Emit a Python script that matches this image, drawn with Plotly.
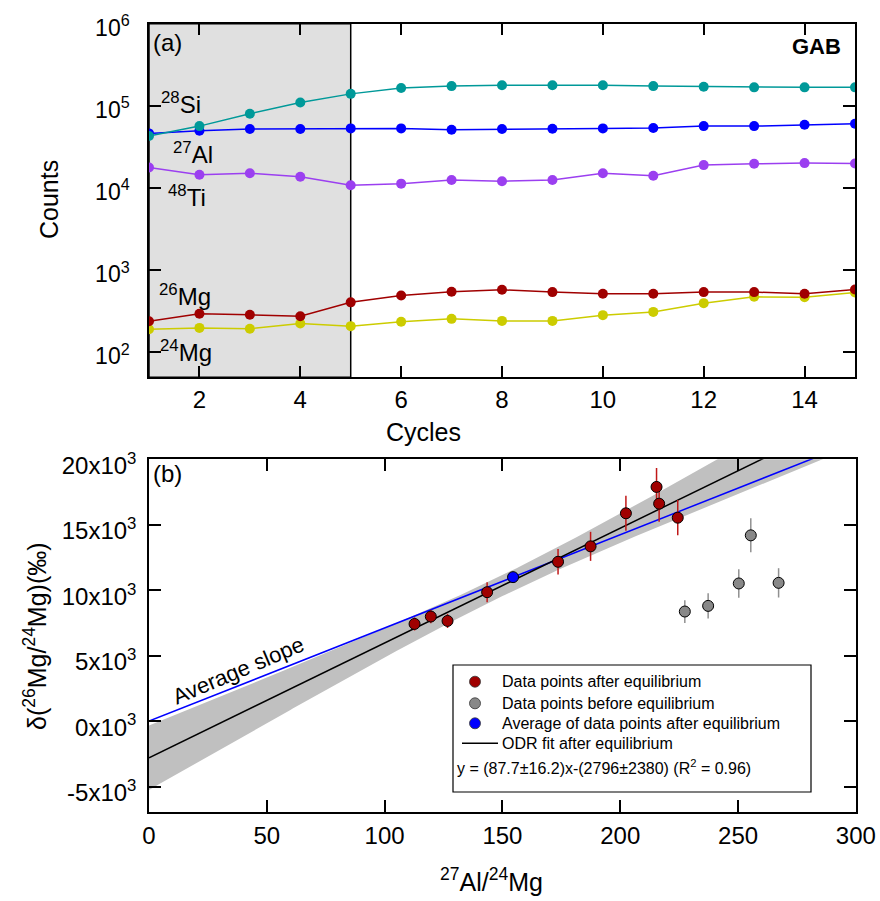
import numpy as np
import plotly.graph_objects as go

# figure laid out in reference-pixel coordinates (page body margin removed below)
OFF = 0
W, H = 880, 901
FONT = "Arial, Liberation Sans, Helvetica, sans-serif"

# ---------------- data: panel (a) ----------------
cycles = list(range(1, 16))
si28 = [42900, 56700, 80100, 110000, 140000, 165000, 174000, 178000, 178000,
        178000, 174000, 171000, 168000, 168000, 168000]
al27 = [46200, 49800, 52200, 52200, 53200, 53200, 51200, 52200, 52600, 53200,
        53700, 56700, 56700, 58900, 60500]
ti48 = [17800, 14500, 15100, 13700, 10800, 11300, 12500, 12100, 12500, 15100,
        14100, 19000, 19700, 20100, 19900]
mg26 = [239, 294, 286, 275, 405, 492, 545, 576, 540, 515, 515, 540, 540, 515, 582]
mg24 = [191, 198, 193, 224, 208, 235, 255, 241, 241, 283, 310, 396, 473, 469, 534]
equilibrium_cycle = 5

# ---------------- data: panel (b) ----------------
ratio_after = [112.7, 119.6, 126.7, 143.5, 173.6, 187.4, 202.4, 215.4, 216.5, 224.4]
delta_after = [7427, 7994, 7657, 9855, 12175, 13354, 15880, 17894, 16616, 15544]
err_after = [500, 510, 540, 765, 970, 1110, 1340, 1455, 1380, 1350]
ratio_before = [227.4, 237.3, 250.3, 255.4, 267.2]
delta_before = [8376, 8806, 10520, 14195, 10566]
err_before = [870, 960, 1085, 1300, 1120]
avg_ratio = [154.5]
avg_delta = [11003]
odr_slope, odr_slope_err = 87.7, 16.2
odr_intercept, odr_intercept_err = -2796, 2380
odr_r2 = 0.96
band_min_halfwidth, band_pivot, band_slope_err = 800, 150, 15.5

top_ticks = [1e2, 1e3, 1e4, 1e5, 1e6]
top_ticktext = ["10<sup>2</sup>", "10<sup>3</sup>", "10<sup>4</sup>",
                "10<sup>5</sup>", "10<sup>6</sup>"]
bot_yticks = [-5000, 0, 5000, 10000, 15000, 20000]
bot_yticktext = ["-5x10<sup>3</sup>", "0x10<sup>3</sup>", "5x10<sup>3</sup>",
                 "10x10<sup>3</sup>", "15x10<sup>3</sup>", "20x10<sup>3</sup>"]
bot_xticks = [0, 50, 100, 150, 200, 250, 300]

legend_labels = ["Data points after equilibrium", "Data points before equilibrium",
                 "Average of data points after equilibrium", "ODR fit after equilibrium"]
COL_AFTER, COL_BEFORE, COL_AVG = "#a00000", "#888888", "#0000ff"


def fx(p):
    return (p - OFF) / W


def fy(p):
    return 1 - (p - OFF) / H


fig = go.Figure()

# ---- panel (a) traces ----
series = [
    (mg24, "#cccc00", "24Mg"),
    (mg26, "#a00000", "26Mg"),
    (ti48, "#9b3ff0", "48Ti"),
    (al27, "#0000ff", "27Al"),
    (si28, "#009999", "28Si"),
]
for vals, col, name in series:
    fig.add_trace(go.Scatter(
        x=cycles, y=vals, mode="lines+markers", name=name,
        line=dict(color=col, width=1.5),
        marker=dict(color=col, size=10),
        xaxis="x", yaxis="y"))

# ---- panel (b) traces ----
xs = np.linspace(0, 300, 301)
center = odr_slope * xs + odr_intercept
hw = np.sqrt(band_min_halfwidth ** 2 + ((xs - band_pivot) * band_slope_err) ** 2)
fig.add_trace(go.Scatter(
    x=np.concatenate([xs, xs[::-1]]),
    y=np.concatenate([center + hw, (center - hw)[::-1]]),
    fill="toself", fillcolor="#c0c0c0", line=dict(width=0), mode="lines",
    hoverinfo="skip", xaxis="x2", yaxis="y2"))

avg_slope = avg_delta[0] / avg_ratio[0]
fig.add_trace(go.Scatter(
    x=[0, 300], y=[0, 300 * avg_slope], mode="lines",
    line=dict(color="#0000ff", width=1.5), name="Average slope",
    xaxis="x2", yaxis="y2"))
fig.add_trace(go.Scatter(
    x=[0, 300], y=[odr_intercept, odr_slope * 300 + odr_intercept], mode="lines",
    line=dict(color="black", width=1.5), name=legend_labels[3],
    xaxis="x2", yaxis="y2"))

# error bars
fig.add_trace(go.Scatter(
    x=ratio_after, y=delta_after, mode="markers",
    marker=dict(size=2, opacity=0),
    error_y=dict(type="data", array=err_after, color="#c01818", thickness=1.5, width=0),
    hoverinfo="skip", xaxis="x2", yaxis="y2"))
fig.add_trace(go.Scatter(
    x=ratio_before, y=delta_before, mode="markers",
    marker=dict(size=2, opacity=0),
    error_y=dict(type="data", array=err_before, color="#909090", thickness=1.5, width=0),
    hoverinfo="skip", xaxis="x2", yaxis="y2"))

for xv, yv, col, nm in [(ratio_after, delta_after, COL_AFTER, legend_labels[0]),
                        (ratio_before, delta_before, COL_BEFORE, legend_labels[1]),
                        (avg_ratio, avg_delta, COL_AVG, legend_labels[2])]:
    fig.add_trace(go.Scatter(
        x=xv, y=yv, mode="markers", name=nm,
        marker=dict(color=col, size=11, line=dict(color="black", width=1)),
        xaxis="x2", yaxis="y2"))

axis_common = dict(showline=True, linecolor="black", linewidth=1.5,
                   ticks="inside", ticklen=12, tickwidth=1.5, tickcolor="black",
                   mirror="ticks", showgrid=False, zeroline=False,
                   automargin=False, ticklabeloverflow="allow")
tf24 = dict(family=FONT, size=24, color="black")
tf23 = dict(family=FONT, size=23, color="black")

fig.update_layout(
    width=W, height=H,
    margin=dict(l=0, r=0, t=0, b=0),
    paper_bgcolor="white", plot_bgcolor="white",
    template="none", showlegend=False,
    font=dict(family=FONT, color="black"),
    xaxis=dict(domain=[fx(149), fx(855)], range=[1, 15], tickvals=list(range(2, 15, 2)),
               anchor="y", ticklabelstandoff=0, tickfont=tf24, **axis_common),
    yaxis=dict(domain=[fy(377.3), fy(23.7)], type="log", range=[1.695, 6.0005],
               tickvals=top_ticks, ticktext=top_ticktext, anchor="x",
               ticklabelstandoff=13, ticklabelshift=4, tickfont=tf23, **axis_common),
    xaxis2=dict(domain=[fx(149), fx(856)], range=[0, 300.05], tickvals=bot_xticks,
                anchor="y2", ticklabelstandoff=1, tickfont=tf24, **axis_common),
    yaxis2=dict(domain=[fy(812), fy(459.3)], range=[-6940, 20005],
                tickvals=bot_yticks, ticktext=bot_yticktext, anchor="x2",
                ticklabelstandoff=6, ticklabelshift=6, tickfont=tf24, **axis_common),
)

fig.add_shape(type="rect", xref="x", yref="y domain", x0=1, x1=equilibrium_cycle,
              y0=0, y1=1, fillcolor="#e0e0e0", line=dict(color="black", width=1.5),
              layer="below")

# legend box (b)
fig.add_shape(type="rect", xref="paper", yref="paper", x0=fx(453), x1=fx(811),
              y0=fy(792), y1=fy(665), fillcolor="white",
              line=dict(color="black", width=1.2), layer="below")
leg_rows = [681.7, 703.3, 723.3, 743.3]
for row, col in zip(leg_rows[:3], [COL_AFTER, COL_BEFORE, COL_AVG]):
    r = 5.5
    fig.add_shape(type="circle", xref="paper", yref="paper",
                  x0=fx(475 - r), x1=fx(475 + r), y0=fy(row + r), y1=fy(row - r),
                  fillcolor=col, line=dict(color="#333333", width=0.8))
fig.add_shape(type="line", xref="paper", yref="paper", x0=fx(462), x1=fx(498),
              y0=fy(leg_rows[3]), y1=fy(leg_rows[3]), line=dict(color="black", width=1.5))


def ann(text, x, y, size=24, xanchor="left", yanchor="middle", angle=0, bold=False):
    fig.add_annotation(text=("<b>%s</b>" % text) if bold else text,
                       x=fx(x), y=fy(y), xref="paper", yref="paper",
                       xanchor=xanchor, yanchor=yanchor, showarrow=False,
                       textangle=angle, font=dict(family=FONT, size=size, color="black"))


for row, lab in zip(leg_rows, legend_labels):
    ann(lab, 500, row, 16)

ann("(a)", 151, 43, 24)
ann("GAB", 843, 46, 22, xanchor="right", bold=True)
ann("<sup>28</sup>Si", 159, 103, 24)
ann("<sup>27</sup>Al", 171, 153, 24)
ann("<sup>48</sup>Ti", 166, 196, 24)
ann("<sup>26</sup>Mg", 157, 295, 24)
ann("<sup>24</sup>Mg", 158, 351, 24)
ann("Counts", 49, 200, 25, xanchor="center", angle=-90)
ann("Cycles", 423, 432, 25, xanchor="center")

ann("(b)", 151, 474, 24)
ann("Average slope", 238, 670, 22, xanchor="center", angle=-23)
ann("δ(<sup>26</sup>Mg/<sup>24</sup>Mg)(‰)", 35, 636, 25, xanchor="center", angle=-90)
ann("<sup>27</sup>Al/<sup>24</sup>Mg", 491, 880, 25, xanchor="center")
ann("y = (%.1f±%.1f)x-(%d±%d) (R<sup>2</sup> = %.2f)" % (
    odr_slope, odr_slope_err, -odr_intercept, odr_intercept_err, odr_r2),
    455, 767, 16)

fig.write_html("out.html", config={"displayModeBar": False},
               post_script="document.body.style.margin='0';document.body.style.overflow='hidden';")
